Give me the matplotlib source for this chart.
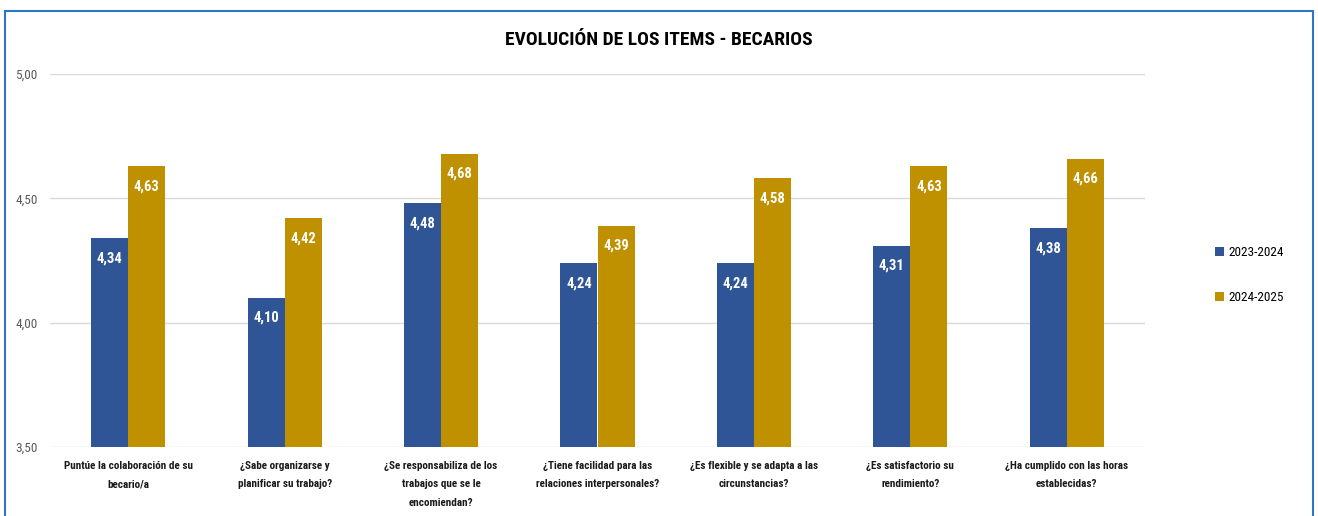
import matplotlib
matplotlib.use("Agg")
import matplotlib.pyplot as plt
import matplotlib.patches as mpatches
from matplotlib import font_manager as fm
import numpy as np

# ── data ──────────────────────────────────────────────────────────────────────
CATEGORIES = [
    "Puntúe la colaboración de su\nbecario/a",
    "¿Sabe organizarse y\nplanificar su trabajo?",
    "¿Se responsabiliza de los\ntrabajos que se le\nencomiendan?",
    "¿Tiene facilidad para las\nrelaciones interpersonales?",
    "¿Es flexible y se adapta a las\ncircunstancias?",
    "¿Es satisfactorio su\nrendimiento?",
    "¿Ha cumplido con las horas\nestablecidas?",
]
SERIES = ["2023-2024", "2024-2025"]
VALUES_2324 = [4.34, 4.10, 4.48, 4.24, 4.24, 4.31, 4.38]
VALUES_2425 = [4.63, 4.42, 4.68, 4.39, 4.58, 4.63, 4.66]
Y_TICKS = [3.5, 4.0, 4.5, 5.0]

COLORS = ["#2F5597", "#BF9000"]

# pick a narrow font (reference uses Calibri, which is narrow)
names = {f.name for f in fm.fontManager.ttflist}
stretch = "normal"
font = "DejaVu Sans"
for cand in ["Roboto Condensed", "Liberation Sans Narrow", "Open Sans Condensed"]:
    if cand in names:
        font = cand
        break
else:
    if any(f.name == "DejaVu Sans" and "condensed" in str(f.stretch)
           for f in fm.fontManager.ttflist):
        stretch = "condensed"
    elif "Roboto" in names:
        font = "Roboto"
plt.rcParams["font.family"] = [font, "DejaVu Sans"]
plt.rcParams["font.stretch"] = stretch

fig = plt.figure(figsize=(13.18, 5.16), dpi=100)
ax = fig.add_axes([50 / 1318, 1 - 447 / 516, 1095 / 1318, (447 - 74) / 516])

# outer chart border (blue, runs off the bottom)
fig.patches.append(mpatches.Rectangle(
    (5 / 1318, -0.05), 1308 / 1318, 1 - 11 / 516 + 0.05,
    transform=fig.transFigure, fill=False, edgecolor="#2E75C8", linewidth=1.5))

x = np.arange(len(CATEGORIES))
w = 0.237
for i, (vals, col) in enumerate(zip([VALUES_2324, VALUES_2425], COLORS)):
    pos = x + (i - 0.5) * w
    ax.bar(pos, [v - 3.5 for v in vals], bottom=3.5, width=w,
           color=col, label=SERIES[i], zorder=3)
    for xp, v in zip(pos, vals):
        ax.annotate(f"{v:.2f}".replace(".", ","), (xp, v), xytext=(0, -14.5),
                    textcoords="offset points", ha="center", va="center",
                    color="white", fontsize=10.5, fontweight="bold", zorder=4)

ax.set_xlim(-0.5, len(CATEGORIES) - 0.5)
ax.set_ylim(3.5, 5.0)
ax.set_yticks(Y_TICKS)
ax.set_yticklabels([f"{t:.2f}".replace(".", ",") for t in Y_TICKS],
                   color="#595959", fontsize=9.5)
ax.set_xticks(x)
ax.set_xticklabels(CATEGORIES, fontsize=8, fontweight="bold", color="#1a1a1a",
                   linespacing=2.05)
ax.tick_params(axis="both", length=0)
ax.tick_params(axis="x", pad=10)
ax.tick_params(axis="y", pad=9)
ax.grid(True, axis="y", color="#D9D9D9", linewidth=1, zorder=0)
for s in ax.spines.values():
    s.set_visible(False)

fig.text(0.5, 1 - 40 / 516, "EVOLUCIÓN DE LOS ITEMS - BECARIOS",
         ha="center", va="center", fontsize=14, fontweight="bold", color="#000000")

ax.legend(loc="center left", bbox_to_anchor=(1215 / 1318, 1 - 275 / 516),
          bbox_transform=fig.transFigure, frameon=False, fontsize=9.5,
          handlelength=0.7, handleheight=0.7, handletextpad=0.3,
          labelspacing=2.4, borderaxespad=0, borderpad=0)

fig.savefig("out.png", dpi=100)
